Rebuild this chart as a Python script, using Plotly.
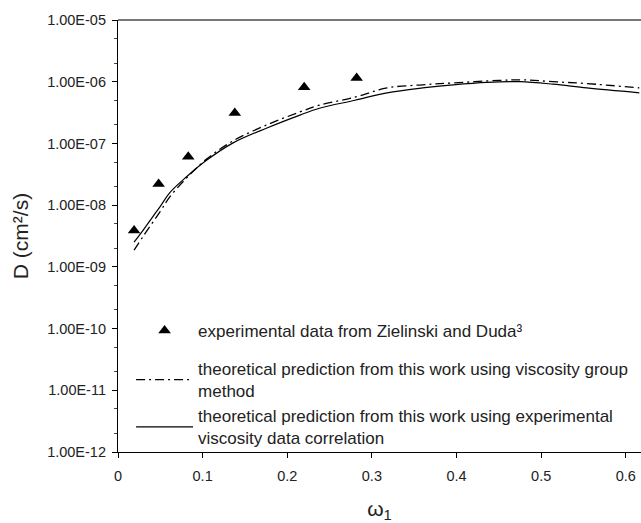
import plotly.graph_objects as go

# experimental data
exp_x = [0.019, 0.048, 0.083, 0.138, 0.220, 0.282]
exp_D = [3.9e-9, 2.2e-8, 6.1e-8, 3.1e-7, 8.1e-7, 1.15e-6]

# viscosity group method (dash-dot)
vg_x = [0.019, 0.03, 0.05, 0.061, 0.081, 0.105, 0.136, 0.176, 0.215, 0.238, 0.28, 0.318, 0.36, 0.396, 0.45, 0.48, 0.514, 0.554, 0.616]
vg_D = [1.86e-9, 3.16e-9, 7.94e-9, 1.35e-8, 2.75e-8, 5.62e-8, 1.10e-7, 2.00e-7, 3.24e-7, 4.17e-7, 5.62e-7, 7.94e-7, 8.91e-7, 9.55e-7, 1.05e-6, 1.07e-6, 1.00e-6, 9.33e-7, 7.94e-7]

# experimental viscosity correlation (solid)
vc_x = [0.019, 0.03, 0.041, 0.05, 0.061, 0.081, 0.105, 0.136, 0.176, 0.215, 0.238, 0.28, 0.318, 0.36, 0.396, 0.436, 0.475, 0.514, 0.554, 0.616]
vc_D = [2.51e-9, 3.98e-9, 6.46e-9, 9.55e-9, 1.58e-8, 2.88e-8, 5.37e-8, 1.02e-7, 1.78e-7, 2.88e-7, 3.72e-7, 5.01e-7, 6.61e-7, 7.94e-7, 8.91e-7, 9.77e-7, 1.00e-6, 9.12e-7, 7.94e-7, 6.61e-7]

y_tickvals = [1e-12, 1e-11, 1e-10, 1e-9, 1e-8, 1e-7, 1e-6, 1e-5]
y_ticktext = ["1.00E-12", "1.00E-11", "1.00E-10", "1.00E-09", "1.00E-08", "1.00E-07", "1.00E-06", "1.00E-05"]
x_tickvals = [0, 0.1, 0.2, 0.3, 0.4, 0.5, 0.6]
x_ticktext = ["0", "0.1", "0.2", "0.3", "0.4", "0.5", "0.6"]

FONT = "Liberation Sans, Arial, sans-serif"
TXT = "#222"

fig = go.Figure()
fig.add_trace(go.Scatter(
    x=exp_x, y=exp_D, mode="markers", legendgroup="exp",
    marker=dict(symbol="triangle-up", size=11, color="black"),
    name="experimental data from Zielinski and Duda³"))
fig.add_trace(go.Scatter(
    x=vg_x, y=vg_D, mode="lines", line_shape="spline", legendgroup="theory",
    line=dict(color="black", width=1.3, dash="9px,4px,2px,4px"),
    name="theoretical prediction from this work using viscosity group<br>method"))
fig.add_trace(go.Scatter(
    x=vc_x, y=vc_D, mode="lines", line_shape="spline", legendgroup="theory",
    line=dict(color="black", width=1.2),
    name="theoretical prediction from this work using experimental<br>viscosity data correlation"))

fig.update_layout(
    width=641, height=523,
    margin=dict(l=118, r=0, t=20, b=71),
    paper_bgcolor="white", plot_bgcolor="white",
    font=dict(family=FONT, size=13, color=TXT),
    showlegend=True,
    legend=dict(x=0.025, y=0.322, xanchor="left", yanchor="top",
                bgcolor="rgba(0,0,0,0)", font=dict(size=17, family=FONT, color=TXT),
                itemwidth=57, tracegroupgap=13),
    xaxis=dict(range=[0, 0.618], tickvals=x_tickvals, ticktext=x_ticktext,
               showgrid=False, zeroline=False, showline=True, linecolor="black", linewidth=1.2,
               ticks="outside", ticklen=5, tickcolor="black", ticklabelstandoff=5,
               tickfont=dict(size=14.5, family=FONT, color=TXT),
               title=dict(text="ω<sub>1</sub>", font=dict(size=21, family=FONT, color=TXT), standoff=24)),
    yaxis=dict(type="log", range=[-12, -5], tickvals=y_tickvals, ticktext=y_ticktext,
               showgrid=False, zeroline=False, showline=True, linecolor="black", linewidth=1.2,
               ticks="outside", ticklen=5, tickcolor="black", ticklabelstandoff=3,
               minor=dict(ticks="outside", ticklen=3, tickcolor="#444", showgrid=False),
               tickfont=dict(size=14.5, family=FONT, color=TXT),
               title=dict(text="D (cm²/s)", font=dict(size=21, family=FONT, color=TXT), standoff=12)),
    shapes=[dict(type="line", xref="paper", yref="paper", x0=0, x1=1, y0=1, y1=1,
                 line=dict(color="#777", width=2))],
)

fig.write_html("out.html")
